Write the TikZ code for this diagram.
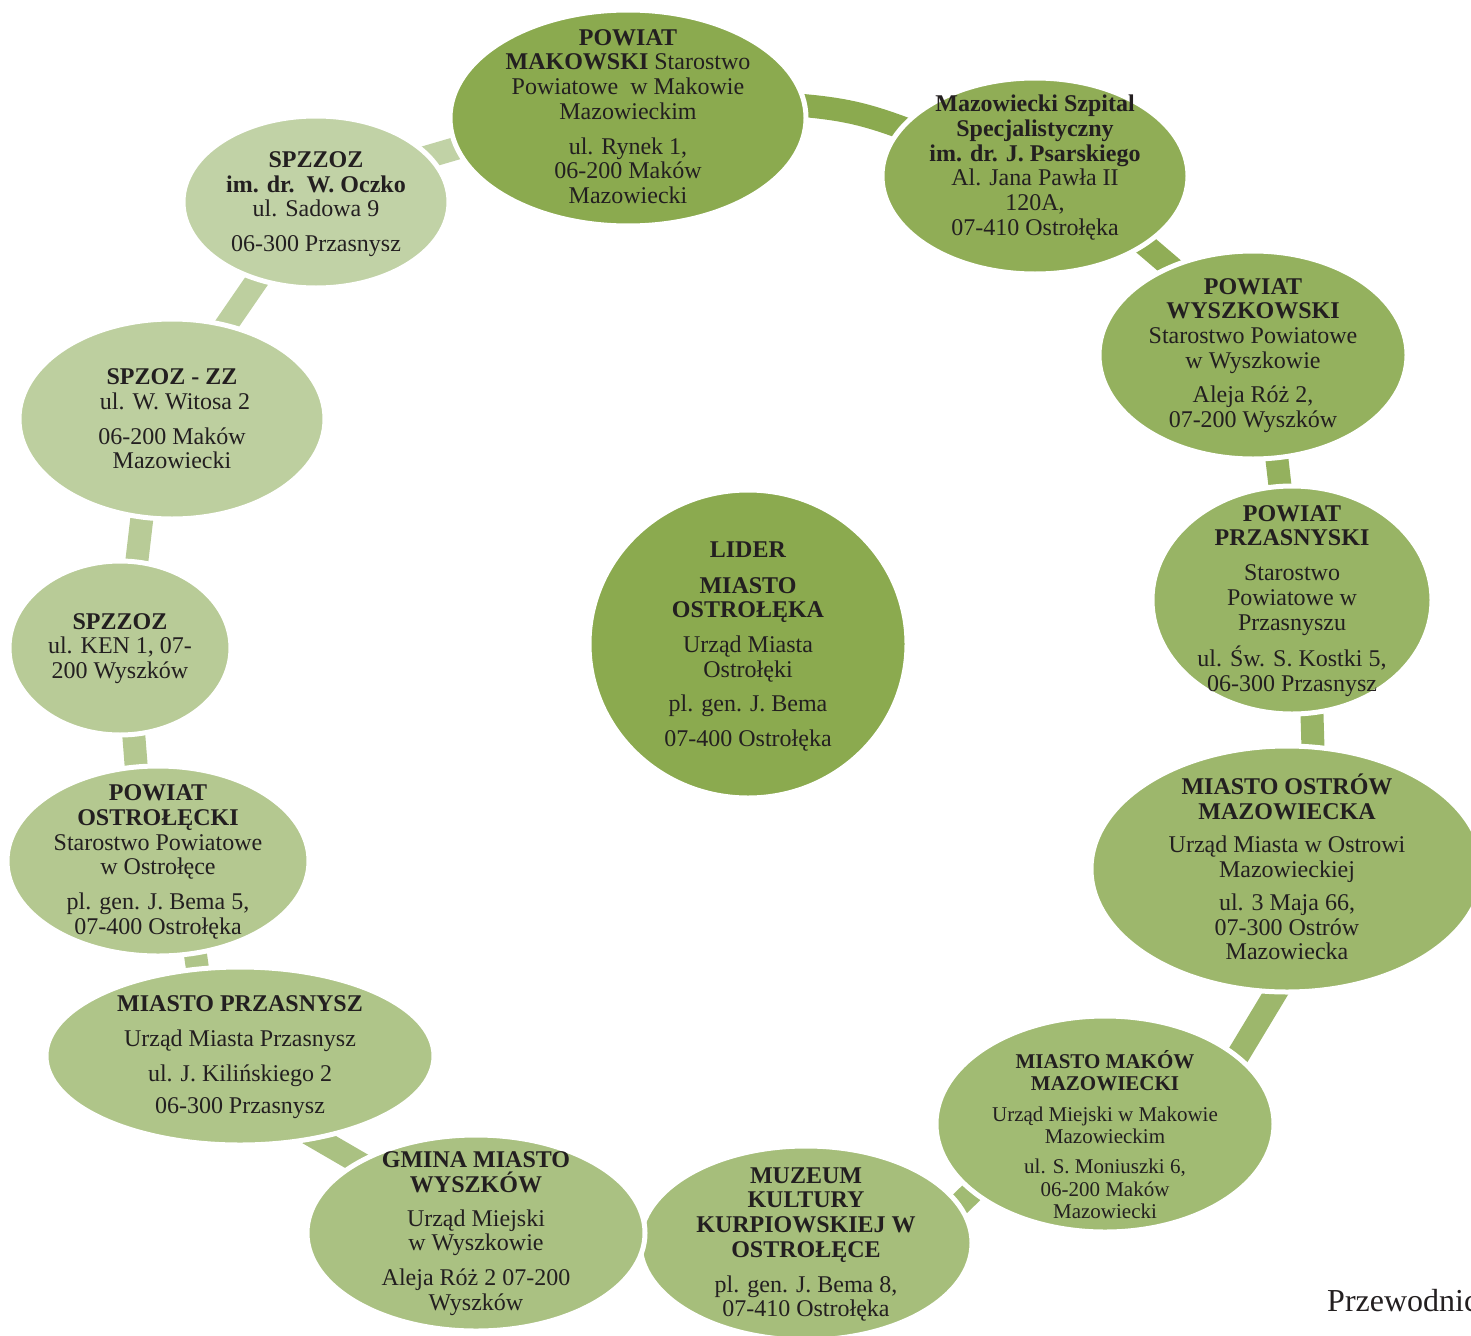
\documentclass[tikz,border=0pt]{standalone}
\usepackage{fontspec}
\setmainfont{Liberation Serif}
\usetikzlibrary{shapes.geometric}
\definecolor{txt}{HTML}{231F20}
\definecolor{g0}{RGB}{139,170,79}
\definecolor{g1}{RGB}{144,173,86}
\definecolor{g2}{RGB}{148,177,94}
\definecolor{g3}{RGB}{152,180,101}
\definecolor{g4}{RGB}{157,183,108}
\definecolor{g5}{RGB}{161,187,115}
\definecolor{g6}{RGB}{166,190,123}
\definecolor{g7}{RGB}{170,193,130}
\definecolor{g8}{RGB}{175,197,137}
\definecolor{g9}{RGB}{180,200,144}
\definecolor{g10}{RGB}{184,203,151}
\definecolor{g11}{RGB}{189,207,159}
\definecolor{g12}{RGB}{193,210,166}
\tikzset{
  blob/.style={ellipse, draw=white, line width=5pt, inner sep=0pt},
  lbl/.style={align=center, text=txt, inner sep=0pt, font=\fontsize{24}{24.7}\selectfont},
  lblsmall/.style={align=center, text=txt, inner sep=0pt, font=\fontsize{21}{22.4}\selectfont},
  conn/.style={line width=23pt, shorten <=-10pt, shorten >=-10pt},
}
\begin{document}
\begin{tikzpicture}[x=1pt,y=1pt]
\useasboundingbox (0,0) rectangle (1471,-1335);

\path
  (628,-118)  coordinate (p1)
  (1035,-176) coordinate (p2)
  (1253,-355) coordinate (p3)
  (1292,-600) coordinate (p4)
  (1287,-869) coordinate (p5)
  (1105,-1124) coordinate (p6)
  (806,-1243) coordinate (p7)
  (476,-1233) coordinate (p8)
  (240,-1056) coordinate (p9)
  (158,-861)  coordinate (p10)
  (120,-648)  coordinate (p11)
  (172,-419)  coordinate (p12)
  (316,-202)  coordinate (p13);

% invisible anchor nodes for connectors
\begin{scope}[every node/.style={ellipse, inner sep=0pt}]
\node[minimum width=356pt, minimum height=216pt] (e1) at (p1) {};
\node[minimum width=306pt, minimum height=196pt] (e2) at (p2) {};
\node[minimum width=308pt, minimum height=208pt] (e3) at (p3) {};
\node[minimum width=280pt, minimum height=228pt] (e4) at (p4) {};
\node[minimum width=392pt, minimum height=246pt] (e5) at (p5) {};
\node[minimum width=338pt, minimum height=216pt] (e6) at (p6) {};
\node[minimum width=332pt, minimum height=194pt] (e7) at (p7) {};
\node[minimum width=338pt, minimum height=196pt] (e8) at (p8) {};
\node[minimum width=388pt, minimum height=178pt] (e9) at (p9) {};
\node[minimum width=302pt, minimum height=190pt] (e10) at (p10) {};
\node[minimum width=222pt, minimum height=174pt] (e11) at (p11) {};
\node[minimum width=306pt, minimum height=200pt] (e12) at (p12) {};
\node[minimum width=266pt, minimum height=172pt] (e13) at (p13) {};
\end{scope}

% connectors
\draw[conn, g12] (e13.22) -- (e1.190);
\draw[conn, g0]  (e1.4) to[bend left=8] (e2.160);
\draw[conn, g1]  (e2.-32) -- (e3.133);
\draw[conn, g2]  (e3.-77) -- (e4.96);
\draw[conn, g3]  (e4.-80) -- (e5.78);
\draw[conn, g4]  (e5.-95) -- (e6.27);
\draw[conn, g5]  (e6.207) -- (e7.14);
\draw[conn, g7]  (e8.149) -- (e9.-47);
\draw[conn, g8]  (e9.116) -- (e10.-68);
\draw[conn, g9]  (e10.103) -- (e11.-81);
\draw[conn, g10] (e11.79) -- (e12.253.5);
\draw[conn, g11] (e12.60) -- (e13.233);

% filled ellipses
\node[blob, fill=g0,  minimum width=356pt, minimum height=216pt] (f1) at (p1) {};
\node[blob, fill=g1,  minimum width=306pt, minimum height=196pt] (f2) at (p2) {};
\node[blob, fill=g2,  minimum width=308pt, minimum height=208pt] (f3) at (p3) {};
\node[blob, fill=g3,  minimum width=280pt, minimum height=228pt] (f4) at (p4) {};
\node[blob, fill=g4,  minimum width=392pt, minimum height=246pt] (f5) at (p5) {};
\node[blob, fill=g5,  minimum width=338pt, minimum height=216pt] (f6) at (p6) {};
\node[blob, fill=g6,  minimum width=332pt, minimum height=194pt] (f7) at (p7) {};
\node[blob, fill=g7,  minimum width=338pt, minimum height=196pt] (f8) at (p8) {};
\node[blob, fill=g8,  minimum width=388pt, minimum height=178pt] (f9) at (p9) {};
\node[blob, fill=g9,  minimum width=302pt, minimum height=190pt] (f10) at (p10) {};
\node[blob, fill=g10, minimum width=222pt, minimum height=174pt] (f11) at (p11) {};
\node[blob, fill=g11, minimum width=306pt, minimum height=200pt] (f12) at (p12) {};
\node[blob, fill=g12, minimum width=266pt, minimum height=172pt] (f13) at (p13) {};
\node[blob, fill=g0,  minimum width=318pt, minimum height=308pt] (lider) at (748,-644) {};

% texts
\node[lbl] (t1) at (628,-116.5) {\textbf{POWIAT}\\\textbf{MAKOWSKI} Starostwo\\Powiatowe\ \ w Makowie\\Mazowieckim\\[10pt]ul. Rynek 1,\\06-200 Maków\\Mazowiecki};
\node[lbl] (t2) at (1035,-167.5) {\textbf{Mazowiecki Szpital}\\\textbf{Specjalistyczny}\\\textbf{im. dr. J. Psarskiego}\\Al. Jana Pawła II\\120A,\\07-410 Ostrołęka};
\node[lbl] (t3) at (1253,-355.5) {\textbf{POWIAT}\\\textbf{WYSZKOWSKI}\\Starostwo Powiatowe\\w Wyszkowie\\[10pt]Aleja Róż 2,\\07-200 Wyszków};
\node[lbl] (t4) at (1292,-601) {\textbf{POWIAT}\\\textbf{PRZASNYSKI}\\[10pt]Starostwo\\Powiatowe w\\Przasnyszu\\[10pt]ul. Św. S. Kostki 5,\\06-300 Przasnysz};
\node[lbl] (t5) at (1287,-867) {\textbf{MIASTO OSTRÓW}\\\textbf{MAZOWIECKA}\\[9pt]Urząd Miasta w Ostrowi\\Mazowieckiej\\[8pt]ul. 3 Maja 66,\\07-300 Ostrów\\Mazowiecka};
\node[lblsmall] (t6) at (1105,-1134.5) {\textbf{MIASTO MAKÓW}\\\textbf{MAZOWIECKI}\\[8pt]Urząd Miejski w Makowie\\Mazowieckim\\[8pt]ul. S. Moniuszki 6,\\06-200 Maków\\Mazowiecki};
\node[lbl] (t7) at (806,-1244.5) {\textbf{MUZEUM}\\\textbf{KULTURY}\\\textbf{KURPIOWSKIEJ W}\\\textbf{OSTROŁĘCE}\\[10pt]pl. gen. J. Bema 8,\\07-410 Ostrołęka};
\node[lbl] (t8) at (476,-1233.5) {\textbf{GMINA MIASTO}\\\textbf{WYSZKÓW}\\[9pt]Urząd Miejski\\w Wyszkowie\\[10pt]Aleja Róż 2 07-200\\Wyszków};
\node[lbl] (t9) at (240,-1057.5) {\textbf{MIASTO PRZASNYSZ}\\[10pt]Urząd Miasta Przasnysz\\[10pt]ul. J. Kilińskiego 2\\[8pt]06-300 Przasnysz};
\node[lbl] (t10) at (158,-862) {\textbf{POWIAT}\\\textbf{OSTROŁĘCKI}\\Starostwo Powiatowe\\w Ostrołęce\\[10pt]pl. gen. J. Bema 5,\\07-400 Ostrołęka};
\node[lbl] (t11) at (120,-648.5) {\textbf{SPZZOZ}\\ul. KEN 1, 07-\\200 Wyszków};
\node[lbl] (t12) at (172,-419) {\textbf{SPZOZ - ZZ}\\\ ul. W. Witosa 2\\[10pt]06-200 Maków\\Mazowiecki};
\node[lbl] (t13) at (316,-204) {\textbf{SPZZOZ}\\\textbf{im. dr.\ \ W. Oczko}\\ul. Sadowa 9\\[10pt]06-300 Przasnysz};
\node[lbl] (t14) at (748,-646.5) {\textbf{LIDER}\\[11pt]\textbf{MIASTO}\\\textbf{OSTROŁĘKA}\\[10pt]Urząd Miasta\\Ostrołęki\\[10pt]pl. gen. J. Bema\\[10pt]07-400 Ostrołęka};

\node[anchor=base west, text=txt, inner sep=0pt, font=\fontsize{32}{35}\selectfont] (foot) at (1327,-1311) {Przewodnic};
\end{tikzpicture}
\end{document}
